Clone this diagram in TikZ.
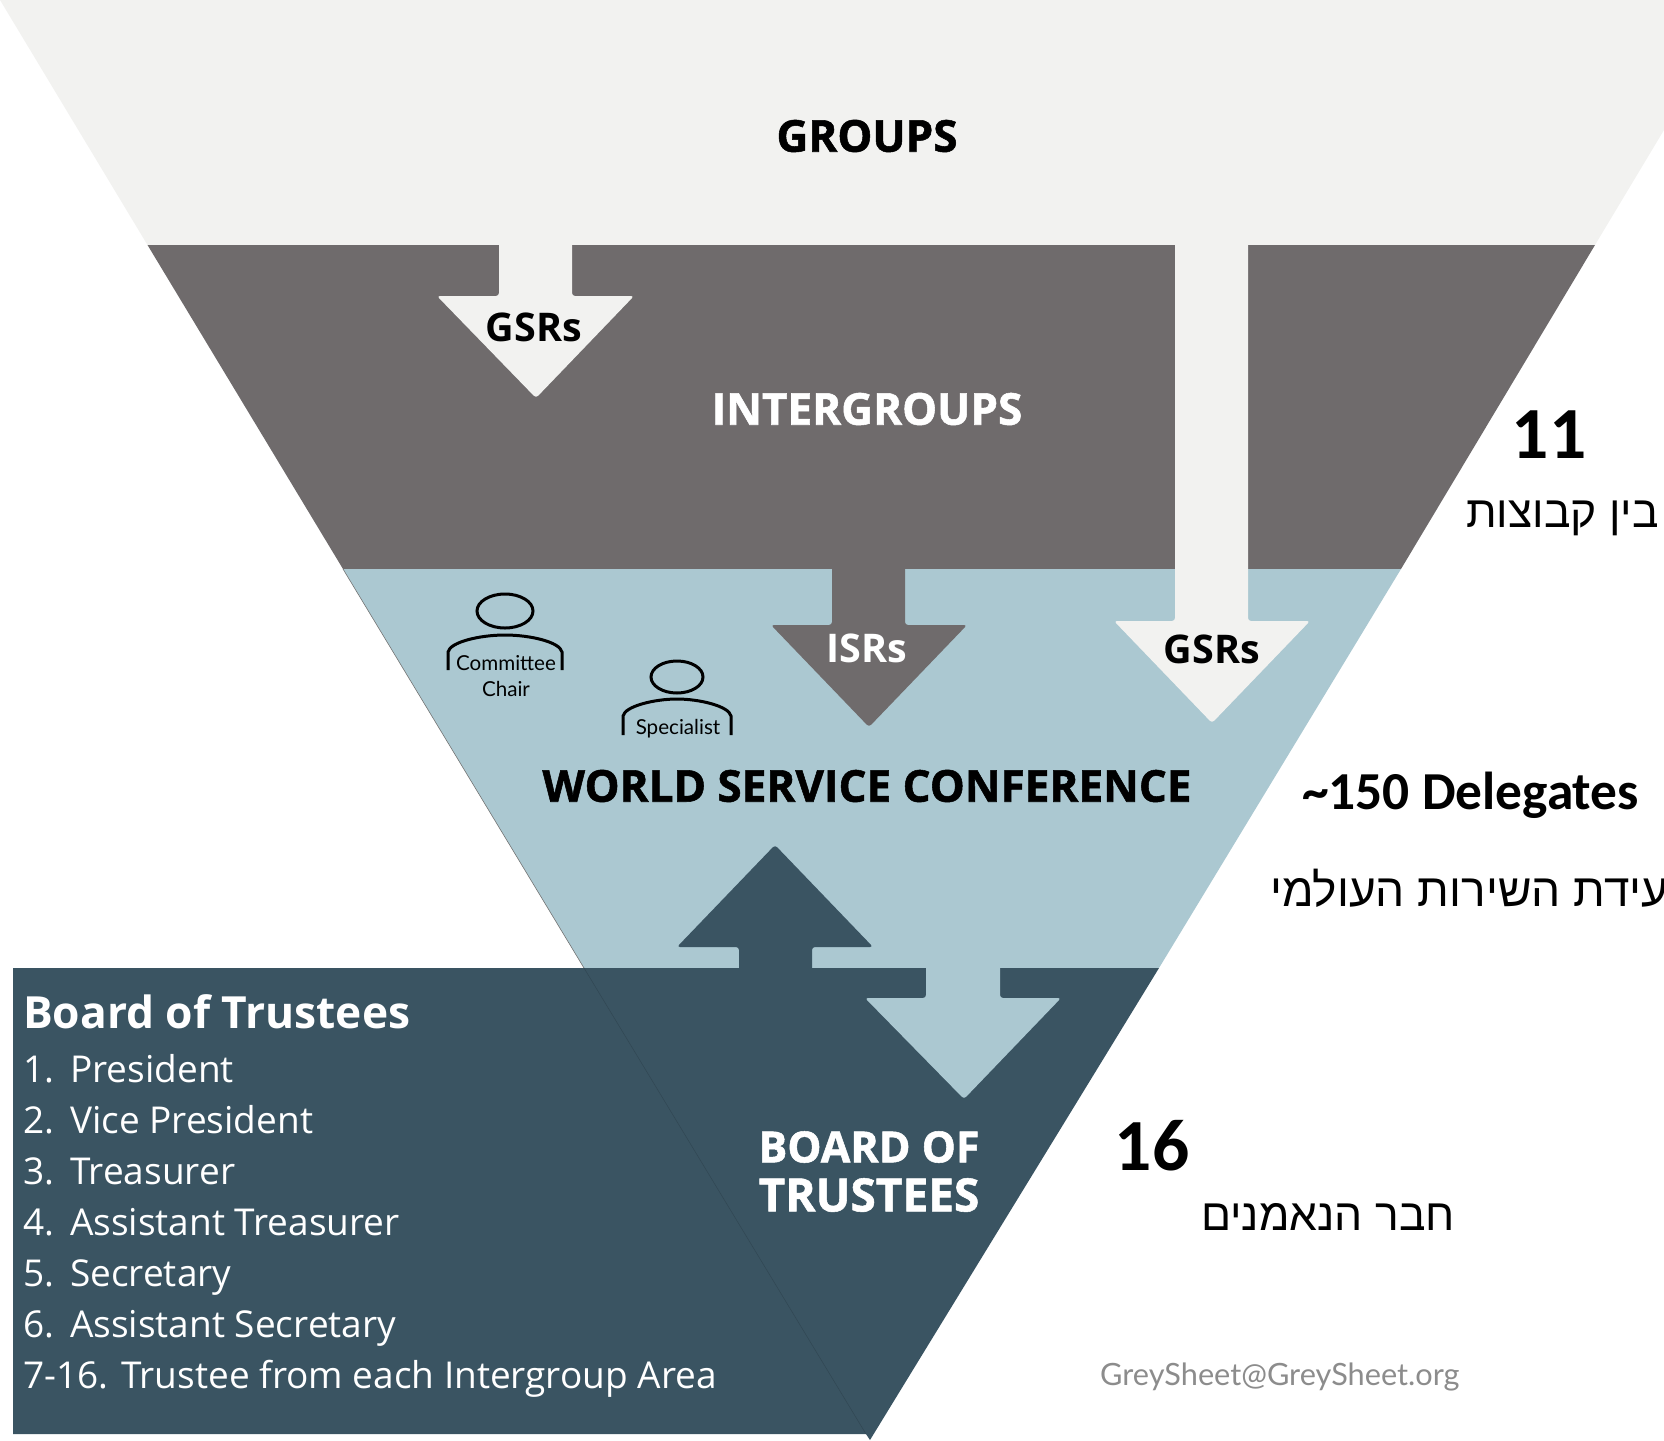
\documentclass[tikz,border=0pt]{standalone}
\usepackage{fontspec}
\setmainfont{Open Sans}
\newfontfamily\heavyfont[BoldFeatures={FakeBold=1.2}]{Open Sans}
\newfontfamily\calfont{Carlito}
\newfontfamily\thinfont{Lato}
\newfontfamily\hebfont[Script=Hebrew]{Liberation Sans}
\TeXXeTstate=1
\usetikzlibrary{positioning}
\definecolor{groupc}{HTML}{F2F2F0}
\definecolor{interc}{HTML}{6F6B6C}
\definecolor{wscc}{HTML}{ABC8D1}
\definecolor{boardc}{HTML}{3A5462}
\newcommand{\fsz}[1]{\fontsize{#1}{#1}\selectfont}
\tikzset{
    bandlbl/.style={inner sep=0pt, font=\heavyfont\bfseries\fsz{44}},
    arrowlbl/.style={inner sep=0pt, font=\bfseries\fsz{39.5}},
    sidelbl/.style={inner sep=0pt, font=\calfont\bfseries\fsz{53.4}},
    countlbl/.style={inner sep=0pt, font=\calfont\bfseries\fsz{73.5}},
    heblbl/.style={inner sep=0pt, font=\hebfont\fsz{44.4}},
    listlbl/.style={inner sep=0pt, anchor=base west, text=white, font=\fsz{37}},
    personlbl/.style={inner sep=0pt, font=\thinfont\fsz{20.6}},
    bodyline/.style={line width=3pt},
    arrowbox/.style={rounded corners=3pt}
}
\begin{document}
\begin{tikzpicture}[x=1pt,y=-1pt]
    \useasboundingbox (0,0) rectangle (1664,1440);

    \fill[groupc] (0,0) -- (1742,0) -- (1595,245) -- (147.5,245) -- cycle;
    \fill[interc] (147.5,245) -- (1595,245) -- (1401,569) -- (343,569) -- cycle;
    \fill[wscc] (343,569) -- (1401,569) -- (1159,968) -- (584,968) -- cycle;
    \fill[boardc] (13,968) -- (1159,968) -- (870,1440) -- (866,1434) -- (13,1434) -- cycle;
    \draw[black!55, line width=0.6pt] (343,569) -- (584,968);
    \draw[boardc!85!black, line width=0.5pt] (584,968) -- (866,1434);

    \fill[groupc, arrowbox] (499,238) -- (499,296) -- (437,296) -- (536,398) -- (634,296) -- (572,296) -- (572,238) -- cycle;
    \fill[interc, arrowbox] (832,562) -- (832,625) -- (771,625) -- (869,727) -- (967,625) -- (905,625) -- (905,562) -- cycle;
    \fill[groupc, arrowbox] (1175,238) -- (1175,621) -- (1114,621) -- (1212,723) -- (1310,621) -- (1248,621) -- (1248,238) -- cycle;
    \fill[boardc, arrowbox] (739,975) -- (739,947) -- (677,947) -- (775,845) -- (873,947) -- (812,947) -- (812,975) -- cycle;
    \fill[wscc, arrowbox] (926,961) -- (926,998) -- (865,998) -- (964,1099) -- (1061,998) -- (1000,998) -- (1000,961) -- cycle;

    \node[bandlbl] (groups) at (867,136) {GROUPS};
    \node[bandlbl, text=white] (inter) at (867,409) {INTERGROUPS};
    \node[bandlbl] (wsc) at (867,786) {WORLD SERVICE CONFERENCE};
    \node[bandlbl, text=white, font=\heavyfont\bfseries\fsz{43}] (boardof) at (869,1147) {BOARD OF};
    \node[bandlbl, text=white, font=\heavyfont\bfseries\fsz{46}] (trustees) at (869,1195) {TRUSTEES};

    \node[arrowlbl] (gsrone) at (534,327) {GSRs};
    \node[arrowlbl, text=white] (isr) at (867,648) {ISRs};
    \node[arrowlbl] (gsrtwo) at (1212,649) {GSRs};

    \draw[bodyline] (505,611) ellipse (28 and 17);
    \draw[bodyline] (448,670) -- (448,652) .. controls (450,642) and (480,635) .. (505,635) .. controls (530,635) and (560,642) .. (562,652) -- (562,670);
    \node[personlbl] (chair) at (506,663) {Committee};
    \node[personlbl] (chairb) at (506,689) {Chair};
    \draw[bodyline] (677,677) ellipse (26 and 16);
    \draw[bodyline] (623,735) -- (623,716) .. controls (625,706) and (655,699) .. (677,699) .. controls (699,699) and (729,706) .. (731,716) -- (731,735);
    \node[personlbl] (spec) at (678,729) {Specialist};

    \node[countlbl] (eleven) at (1549,435) {11};
    \node[heblbl, anchor=east] (hebone) at (1659,518) {\beginR בין קבוצות\endR};
    \node[sidelbl, anchor=west] (deleg) at (1302,795) {\textasciitilde 150 Delegates};
    \node[heblbl, anchor=west, font=\hebfont\fsz{46}] (hebtwo) at (1270,888) {\beginR ועידת השירות העולמי\endR};
    \node[countlbl] (sixteen) at (1152,1146) {16};
    \node[heblbl, anchor=west] (hebthree) at (1201,1217) {\beginR חבר הנאמנים\endR};
    \node[inner sep=0pt, anchor=west, text=black!45, font=\thinfont\fsz{30.7}] (mail) at (1100,1377) {GreySheet@GreySheet.org};

    \node[listlbl, font=\bfseries\fsz{44.3}] (title) at (23,1028) {Board of Trustees};
    \foreach \n/\txt/\ypos in {1/President/1082, 2/Vice President/1133, 3/Treasurer/1184, 4/Assistant Treasurer/1235, 5/Secretary/1286, 6/Assistant Secretary/1337} {
        \node[listlbl] (num\n) at (23,\ypos) {\n.};
        \node[listlbl] (item\n) at (70,\ypos) {\txt};
    }
    \node[listlbl] (item7) at (23,1388) {7-16. Trustee from each Intergroup Area};
\end{tikzpicture}
\end{document}
